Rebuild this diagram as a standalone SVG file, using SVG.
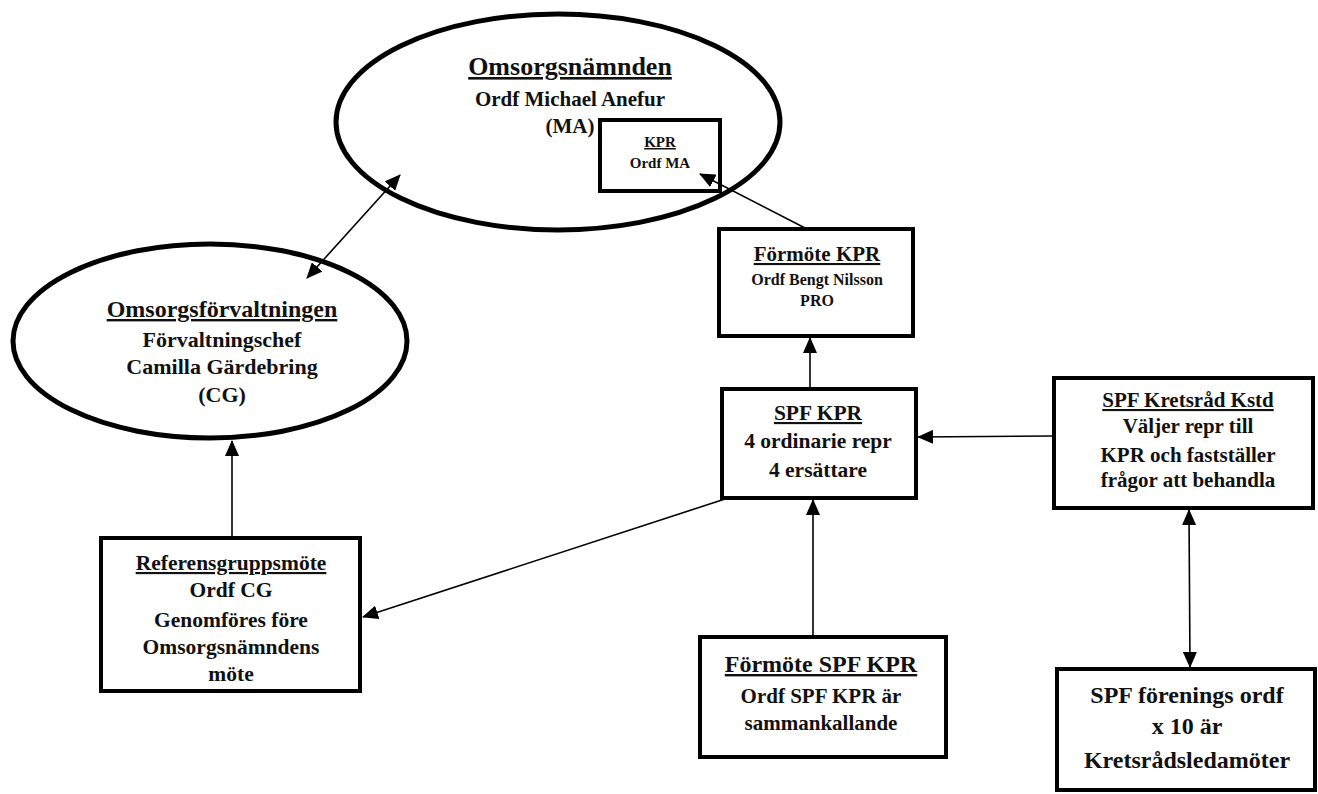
<svg xmlns="http://www.w3.org/2000/svg" width="1318" height="794" viewBox="0 0 1318 794">
<style>
.box{fill:#fff;stroke:#000;stroke-width:4}
.ell{fill:#fff;stroke:#000;stroke-width:5}
.t{font-family:"Liberation Serif","Times New Roman",serif;font-weight:bold;text-anchor:middle;fill:#111}
.u{text-decoration:underline}
.c{fill:none;stroke:#000;stroke-width:1.6}
</style>
<defs>
<marker id="ah" markerUnits="userSpaceOnUse" markerWidth="16" markerHeight="14" refX="15" refY="7" orient="auto-start-reverse" viewBox="0 0 16 14">
<path d="M0,0 L16,7 L0,14 z" fill="#000"/>
</marker>
</defs>
<rect width="1318" height="794" fill="#fff"/>

<g id="omsorgsnamnden">
<ellipse class="ell" cx="558" cy="122" rx="222" ry="108"/>
<text class="t u" x="570" y="75" font-size="26">Omsorgsnämnden</text>
<text class="t" x="570" y="106" font-size="21">Ordf Michael Anefur</text>
<text class="t" x="570" y="133" font-size="21">(MA)</text>
</g>

<g id="kpr">
<rect class="box" x="600" y="120" width="120" height="71"/>
<text class="t u" x="660" y="147" font-size="15">KPR</text>
<text class="t" x="660" y="168" font-size="15">Ordf MA</text>
</g>

<g id="omsorgsforvaltningen">
<ellipse class="ell" cx="210" cy="341" rx="197" ry="97"/>
<text class="t u" x="222" y="317" font-size="24">Omsorgsförvaltningen</text>
<text class="t" x="222" y="347" font-size="22">Förvaltningschef</text>
<text class="t" x="222" y="374" font-size="22">Camilla Gärdebring</text>
<text class="t" x="222" y="402" font-size="22">(CG)</text>
</g>

<g id="formote-kpr">
<rect class="box" x="719" y="229" width="194" height="107"/>
<text class="t u" x="817" y="261" font-size="21">Förmöte KPR</text>
<text class="t" x="817" y="285" font-size="16">Ordf Bengt Nilsson</text>
<text class="t" x="817" y="306" font-size="16">PRO</text>
</g>

<g id="spf-kpr">
<rect class="box" x="722" y="389" width="194" height="109"/>
<text class="t u" x="818" y="420" font-size="21.5">SPF KPR</text>
<text class="t" x="818" y="448" font-size="21.5">4 ordinarie repr</text>
<text class="t" x="818" y="477" font-size="21.5">4 ersättare</text>
</g>

<g id="spf-kretsrad">
<rect class="box" x="1054" y="378" width="259" height="130"/>
<text class="t u" x="1188" y="407" font-size="21">SPF Kretsråd Kstd</text>
<text class="t" x="1188" y="433" font-size="21">Väljer repr till</text>
<text class="t" x="1188" y="462" font-size="21">KPR och fastställer</text>
<text class="t" x="1188" y="487" font-size="21">frågor att behandla</text>
</g>

<g id="spf-forenings">
<rect class="box" x="1057" y="669" width="258" height="121"/>
<text class="t" x="1187" y="703" font-size="24">SPF förenings ordf</text>
<text class="t" x="1187" y="734" font-size="24">x 10 är</text>
<text class="t" x="1187" y="768" font-size="24">Kretsrådsledamöter</text>
</g>

<g id="referensgruppsmote">
<rect class="box" x="101" y="538" width="259" height="153"/>
<text class="t u" x="231" y="570" font-size="21.5">Referensgruppsmöte</text>
<text class="t" x="231" y="597" font-size="21.5">Ordf CG</text>
<text class="t" x="231" y="627" font-size="21.5">Genomföres före</text>
<text class="t" x="231" y="654" font-size="21.5">Omsorgsnämndens</text>
<text class="t" x="231" y="681" font-size="21.5">möte</text>
</g>

<g id="formote-spf-kpr">
<rect class="box" x="700" y="637" width="246" height="120"/>
<text class="t u" x="821" y="672" font-size="24">Förmöte SPF KPR</text>
<text class="t" x="821" y="703" font-size="21">Ordf SPF KPR är</text>
<text class="t" x="821" y="730" font-size="21">sammankallande</text>
</g>

<g id="connectors">
<line class="c" x1="307" y1="278" x2="400" y2="175" marker-start="url(#ah)" marker-end="url(#ah)"/>
<line class="c" x1="805" y1="228" x2="700" y2="174" marker-end="url(#ah)"/>
<line class="c" x1="810" y1="388" x2="810" y2="338" marker-end="url(#ah)"/>
<line class="c" x1="1053" y1="436" x2="918" y2="437" marker-end="url(#ah)"/>
<line class="c" x1="813" y1="636" x2="813" y2="500" marker-end="url(#ah)"/>
<line class="c" x1="725" y1="499" x2="363" y2="617" marker-end="url(#ah)"/>
<line class="c" x1="232" y1="537" x2="232" y2="441" marker-end="url(#ah)"/>
<line class="c" x1="1189" y1="510" x2="1190" y2="667" marker-start="url(#ah)" marker-end="url(#ah)"/>
</g>
</svg>
